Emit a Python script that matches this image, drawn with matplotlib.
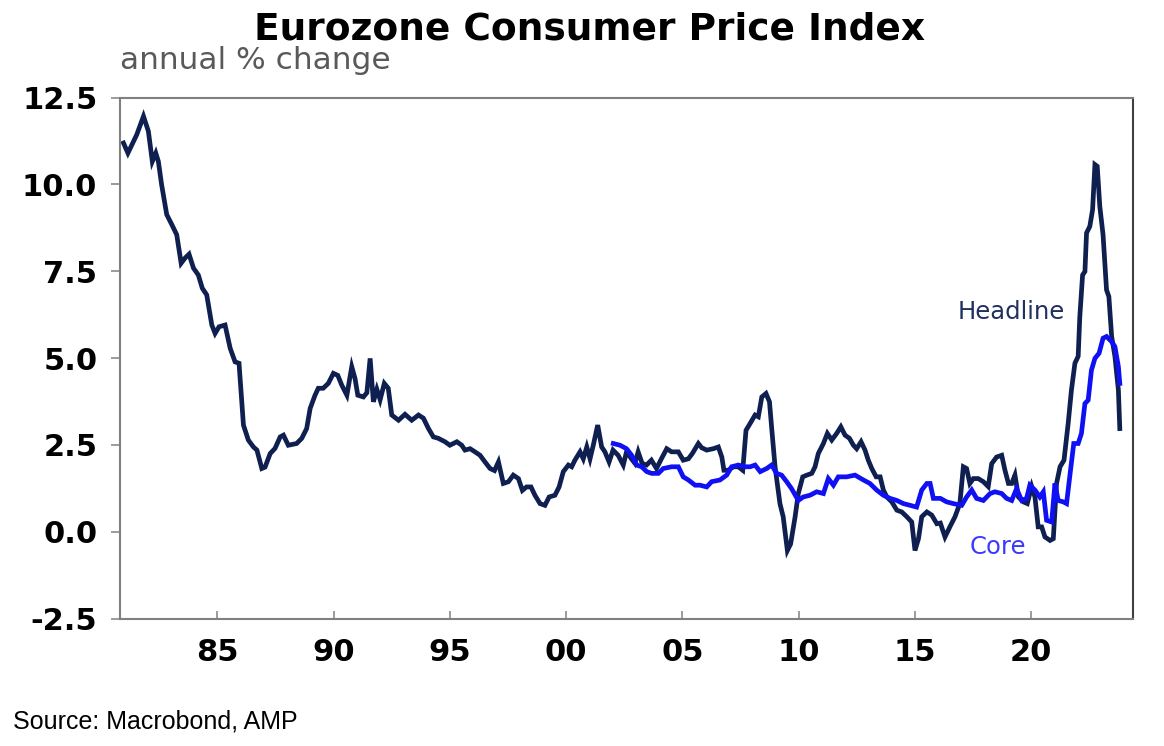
import matplotlib
matplotlib.use("Agg")
import matplotlib.pyplot as plt
from matplotlib.ticker import FixedLocator, FixedFormatter

# Data (annual % change; dates as decimal years)
headline_t = [
    1980.96, 1981.15, 1981.32, 1981.53, 1981.82, 1982.03, 1982.20, 1982.35, 1982.46, 1982.60,
    1982.82, 1983.04, 1983.25, 1983.44, 1983.61, 1983.78, 1983.97, 1984.18, 1984.35, 1984.54,
    1984.76, 1984.90, 1985.07, 1985.33, 1985.55, 1985.76, 1985.93, 1986.12, 1986.33, 1986.55,
    1986.70, 1986.91, 1987.05, 1987.27, 1987.48, 1987.70, 1987.84, 1988.05, 1988.41, 1988.63,
    1988.84, 1988.99, 1989.20, 1989.34, 1989.55, 1989.77, 1989.99, 1990.18, 1990.35, 1990.57,
    1990.78, 1990.92, 1991.04, 1991.28, 1991.43, 1991.57, 1991.71, 1991.86, 1992.00, 1992.18,
    1992.35, 1992.50, 1992.79, 1993.07, 1993.36, 1993.65, 1993.86, 1994.08, 1994.29, 1994.50,
    1994.79, 1995.00, 1995.30, 1995.51, 1995.65, 1995.87, 1996.08, 1996.30, 1996.51, 1996.73,
    1996.92, 1997.09, 1997.30, 1997.52, 1997.73, 1997.95, 1998.12, 1998.30, 1998.49, 1998.66,
    1998.88, 1999.09, 1999.27, 1999.52, 1999.70, 1999.88, 2000.10, 2000.24, 2000.38, 2000.60,
    2000.74, 2000.89, 2001.03, 2001.17, 2001.36, 2001.53, 2001.67, 2001.85, 2002.02, 2002.24,
    2002.46, 2002.60, 2002.81, 2002.96, 2003.10, 2003.27, 2003.46, 2003.67, 2003.89, 2004.10,
    2004.33, 2004.54, 2004.83, 2005.04, 2005.26, 2005.43, 2005.69, 2005.83, 2006.05, 2006.33,
    2006.55, 2006.70, 2006.79, 2006.98, 2007.20, 2007.41, 2007.60, 2007.74, 2007.92, 2008.13,
    2008.27, 2008.42, 2008.60, 2008.75, 2008.84, 2008.99, 2009.20, 2009.34, 2009.52, 2009.66,
    2009.85, 2009.99, 2010.18, 2010.36, 2010.57, 2010.71, 2010.85, 2011.07, 2011.24, 2011.43,
    2011.64, 2011.82, 2012.00, 2012.19, 2012.36, 2012.50, 2012.69, 2012.86, 2013.00, 2013.15,
    2013.34, 2013.51, 2013.65, 2013.80, 2014.01, 2014.23, 2014.44, 2014.66, 2014.87, 2015.01,
    2015.16, 2015.30, 2015.52, 2015.73, 2015.95, 2016.10, 2016.30, 2016.51, 2016.73, 2016.94,
    2017.09, 2017.23, 2017.37, 2017.52, 2017.73, 2017.95, 2018.16, 2018.31, 2018.52, 2018.74,
    2018.88, 2019.03, 2019.17, 2019.31, 2019.46, 2019.67, 2019.84, 2020.03, 2020.17, 2020.31,
    2020.46, 2020.60, 2020.82, 2020.96, 2021.10, 2021.25, 2021.42, 2021.60, 2021.74, 2021.89,
    2022.03, 2022.10, 2022.22, 2022.32, 2022.39, 2022.53, 2022.65, 2022.75, 2022.85, 2022.96,
    2023.10, 2023.25, 2023.35, 2023.47, 2023.61, 2023.76, 2023.82,
]
headline_v = [
    11.19, 10.90, 11.14, 11.43, 11.96, 11.53, 10.66, 10.90, 10.66, 9.99,
    9.13, 8.84, 8.55, 7.73, 7.88, 7.99, 7.59, 7.39, 7.01, 6.82,
    5.95, 5.71, 5.90, 5.95, 5.28, 4.89, 4.85, 3.07, 2.64, 2.44,
    2.35, 1.82, 1.86, 2.25, 2.40, 2.73, 2.78, 2.49, 2.54, 2.69,
    2.97, 3.55, 3.93, 4.13, 4.13, 4.27, 4.56, 4.50, 4.22, 3.93,
    4.75, 4.41, 3.93, 3.88, 4.00, 4.99, 3.74, 4.10, 3.80, 4.27,
    4.13, 3.36, 3.21, 3.38, 3.21, 3.36, 3.27, 2.97, 2.73, 2.69,
    2.59, 2.49, 2.59, 2.49, 2.35, 2.39, 2.30, 2.20, 2.01, 1.82,
    1.76, 2.01, 1.39, 1.44, 1.63, 1.53, 1.19, 1.29, 1.29, 1.05,
    0.81, 0.76, 1.00, 1.05, 1.29, 1.73, 1.92, 1.87, 2.06, 2.30,
    2.10, 2.44, 2.10, 2.49, 3.07, 2.44, 2.30, 2.01, 2.35, 2.20,
    1.92, 2.30, 2.10, 1.97, 2.30, 1.97, 1.92, 2.06, 1.82, 2.10,
    2.39, 2.30, 2.30, 2.06, 2.10, 2.25, 2.54, 2.42, 2.35, 2.39,
    2.44, 2.15, 1.77, 1.77, 1.87, 1.87, 1.77, 2.92, 3.12, 3.36,
    3.31, 3.88, 3.98, 3.74, 3.02, 1.87, 0.81, 0.43, -0.54, -0.35,
    0.42, 1.10, 1.58, 1.63, 1.68, 1.87, 2.25, 2.54, 2.83, 2.64,
    2.83, 3.02, 2.78, 2.69, 2.49, 2.39, 2.59, 2.35, 2.06, 1.82,
    1.58, 1.58, 1.20, 1.00, 0.86, 0.62, 0.57, 0.43, 0.28, -0.54,
    -0.20, 0.43, 0.57, 0.48, 0.23, 0.25, -0.15, 0.14, 0.43, 0.81,
    1.87, 1.82, 1.39, 1.53, 1.53, 1.44, 1.30, 1.96, 2.15, 2.20,
    1.77, 1.39, 1.39, 1.63, 1.00, 0.86, 0.81, 1.30, 1.00, 0.14,
    0.14, -0.15, -0.25, -0.20, 1.39, 1.87, 2.06, 3.12, 4.08, 4.85,
    5.05, 6.19, 7.39, 7.49, 8.60, 8.79, 9.27, 10.57, 10.52, 9.37,
    8.55, 6.96, 6.77, 5.62, 5.05, 4.08, 2.97,
]

core_t = [
    2002.03, 2002.32, 2002.60, 2002.82, 2003.04, 2003.25, 2003.47, 2003.68, 2003.97, 2004.18,
    2004.54, 2004.83, 2005.04, 2005.26, 2005.55, 2005.76, 2006.05, 2006.26, 2006.62, 2006.91,
    2007.12, 2007.41, 2007.70, 2007.92, 2008.13, 2008.35, 2008.63, 2008.84, 2009.06, 2009.27,
    2009.49, 2009.70, 2009.99, 2010.20, 2010.49, 2010.78, 2011.07, 2011.28, 2011.50, 2011.71,
    2012.07, 2012.43, 2012.79, 2013.07, 2013.36, 2013.65, 2013.94, 2014.23, 2014.51, 2014.80,
    2015.08, 2015.30, 2015.52, 2015.66, 2015.80, 2016.10, 2016.37, 2016.66, 2017.02, 2017.23,
    2017.45, 2017.66, 2017.95, 2018.24, 2018.45, 2018.74, 2018.95, 2019.17, 2019.38, 2019.60,
    2019.81, 2019.95, 2020.17, 2020.38, 2020.53, 2020.67, 2020.89, 2021.03, 2021.17, 2021.39,
    2021.53, 2021.70, 2021.84, 2022.03, 2022.17, 2022.32, 2022.46, 2022.60, 2022.75, 2022.93,
    2023.10, 2023.25, 2023.47, 2023.61, 2023.76, 2023.82,
]
core_v = [
    2.54, 2.49, 2.39, 2.20, 1.92, 1.87, 1.73, 1.68, 1.68, 1.82,
    1.87, 1.87, 1.58, 1.49, 1.34, 1.34, 1.29, 1.44, 1.49, 1.63,
    1.87, 1.92, 1.87, 1.87, 1.92, 1.73, 1.82, 1.92, 1.68, 1.63,
    1.44, 1.24, 0.90, 1.00, 1.05, 1.15, 1.10, 1.53, 1.34, 1.58,
    1.58, 1.63, 1.49, 1.39, 1.20, 1.05, 0.96, 0.90, 0.81, 0.76,
    0.71, 1.20, 1.39, 1.39, 0.96, 0.96, 0.86, 0.81, 0.76, 1.00,
    1.20, 0.96, 0.90, 1.10, 1.15, 1.10, 0.96, 0.90, 1.24, 0.90,
    0.96, 1.34, 1.20, 1.00, 1.15, 0.33, 0.28, 1.39, 0.90, 0.86,
    0.81, 1.77, 2.54, 2.54, 2.83, 3.69, 3.79, 4.65, 4.99, 5.14,
    5.57, 5.62, 5.47, 5.33, 4.75, 4.27,
]

x_ticks = [1985, 1990, 1995, 2000, 2005, 2010, 2015, 2020]
x_labels = ['85', '90', '95', '00', '05', '10', '15', '20']
y_ticks = [-2.5, 0.0, 2.5, 5.0, 7.5, 10.0, 12.5]

navy = '#0e1f50'
blue = '#1010f5'
grey = '#808080'

plt.rcParams['font.family'] = 'DejaVu Sans'

fig = plt.figure(figsize=(11.64, 7.46), dpi=100)
ax = fig.add_axes([0.1027, 0.1708, 0.8707, 0.6985])

ax.plot(headline_t, headline_v, color=navy, lw=3.4, solid_joinstyle='miter')
ax.plot(core_t, core_v, color=blue, lw=3.4, solid_joinstyle='miter')

ax.set_xlim(1980.79, 2024.39)
ax.set_ylim(-2.5, 12.5)

ax.xaxis.set_major_locator(FixedLocator(x_ticks))
ax.xaxis.set_major_formatter(FixedFormatter(x_labels))
ax.set_yticks(y_ticks)
ax.set_yticklabels(['%.1f' % v for v in y_ticks])

ax.tick_params(axis='x', direction='in', length=5.8, width=1.1, color=grey,
               pad=14, labelsize=22)
ax.tick_params(axis='y', direction='out', length=6.5, width=1.1, color=grey,
               pad=9.5, labelsize=22)
for lab in ax.get_xticklabels() + ax.get_yticklabels():
    lab.set_fontweight('bold')

for side in ['left', 'bottom', 'top']:
    ax.spines[side].set_color(grey)
    ax.spines[side].set_linewidth(1.5)
ax.spines['right'].set_color('#404040')
ax.spines['right'].set_linewidth(1.5)

ax.text(2016.86, 6.33, 'Headline', color='#203060', fontsize=17.5,
        ha='left', va='center')
ax.text(2017.37, -0.44, 'Core', color='#3a3aff', fontsize=17.5,
        ha='left', va='center')

fig.text(0.5069, 1 - 40 / 746, 'Eurozone Consumer Price Index',
         ha='center', va='baseline', fontsize=27, fontweight='bold')
fig.text(0.1027, 1 - 69 / 746, 'annual % change', ha='left', va='baseline',
         fontsize=22.5, color='#595959')
fig.text(13 / 1164, 1 - 728 / 746, 'Source: Macrobond, AMP', ha='left',
         va='baseline', fontsize=18, family='Liberation Sans')

fig.savefig('out.png', dpi=100)
